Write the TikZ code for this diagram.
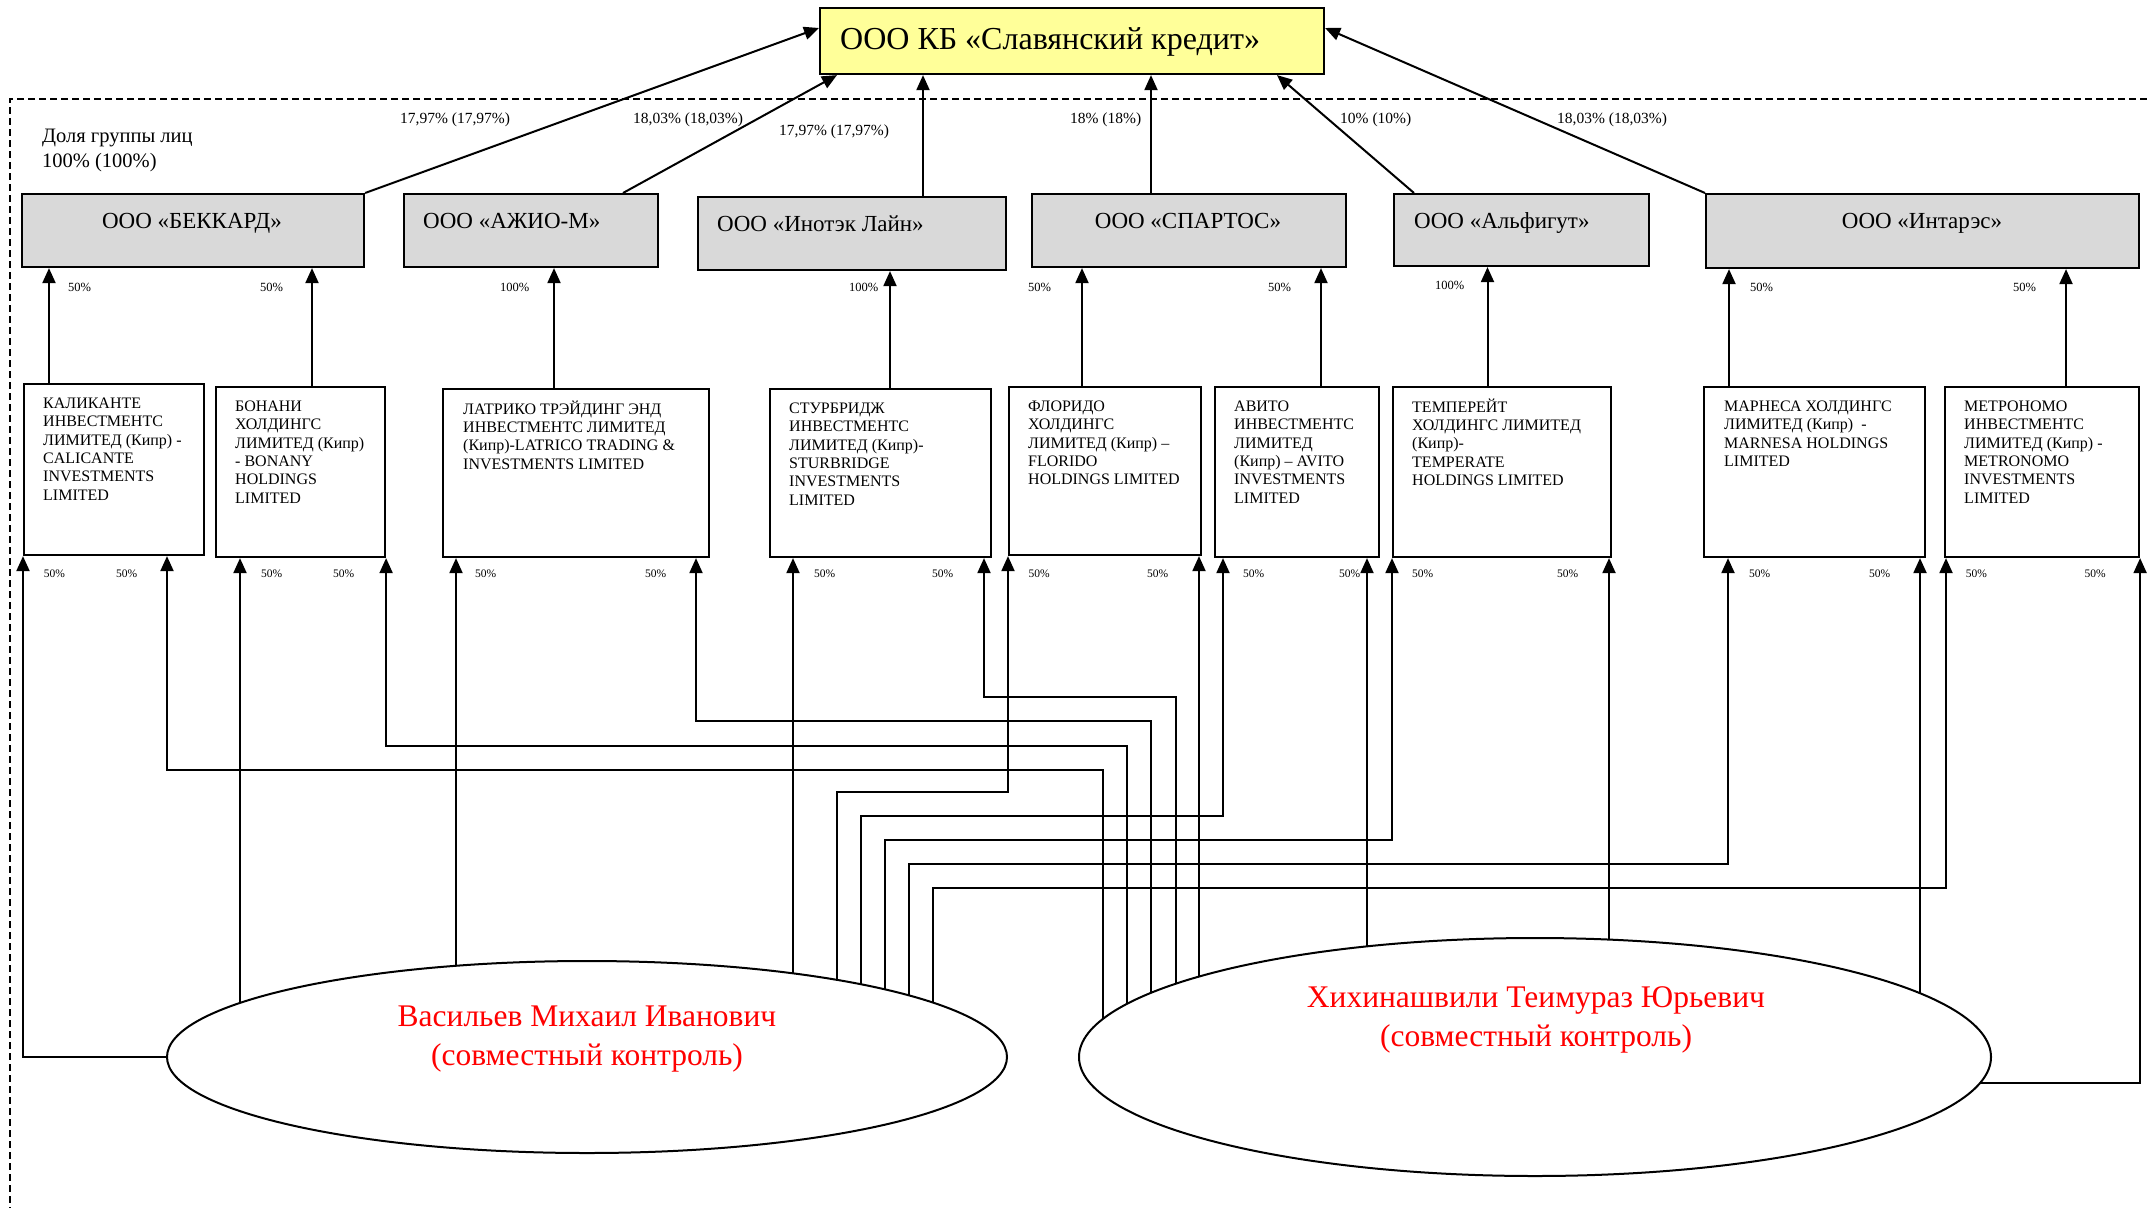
\documentclass[tikz,border=0pt]{standalone}
\usepackage{fontspec}
\setmainfont{Liberation Serif}
\usetikzlibrary{arrows.meta,shapes.geometric,backgrounds}
\definecolor{topyellow}{RGB}{255,255,153}
\begin{document}
\begin{tikzpicture}[x=1pt,y=-1pt,
  arr/.style={line width=2pt,-{Triangle[length=15pt,width=13pt]}},
  gbox/.style={draw,line width=2.1pt,fill=gray!30,inner sep=0pt,anchor=north west},
  wbox/.style={draw,line width=2.1pt,fill=white,inner sep=0pt,anchor=north west},
  gtxt/.style={font=\fontsize{23}{27}\selectfont,inner sep=0pt},
  btxt/.style={font=\fontsize{16}{18.3}\selectfont,inner sep=0pt,align=left,anchor=north west},
  pct/.style={font=\fontsize{12.5}{14}\selectfont,inner sep=0pt,anchor=west},
  pcs/.style={font=\fontsize{11.5}{13}\selectfont,inner sep=0pt,anchor=west},
  ptop/.style={font=\fontsize{15.5}{18}\selectfont,inner sep=0pt,anchor=west},
  pers/.style={draw,ellipse,line width=2pt,fill=white,inner sep=0pt},
  ptxt/.style={font=\fontsize{31.5}{38.5}\selectfont,text=red,align=center,inner sep=0pt},
]
\useasboundingbox (0,0) rectangle (2147,1208);

% group frame
\draw[line width=1.7pt,dash pattern=on 7pt off 4pt] (2147,99) -- (10,99) -- (10,1208);
\node[font=\fontsize{20.5}{25}\selectfont,inner sep=0pt,align=left,anchor=north west] (grp) at (42,124.5) {\strut Доля группы лиц\\100\% (100\%)};

% top company
\node[draw,line width=2.1pt,fill=topyellow,inner sep=0pt,anchor=north west,minimum width=504pt,minimum height=66pt] (top) at (819,7) {};
\node[font=\fontsize{32}{38}\selectfont,inner sep=0pt,anchor=base west] (topT) at (840,49) {ООО КБ «Славянский кредит»};

% second level
\node[gbox,minimum width=342pt,minimum height=73pt] (bek) at (21,193) {};
\node[gbox,minimum width=254pt,minimum height=73pt] (azh) at (403,193) {};
\node[gbox,minimum width=308pt,minimum height=73pt] (ino) at (697,196) {};
\node[gbox,minimum width=314pt,minimum height=73pt] (spa) at (1031,193) {};
\node[gbox,minimum width=255pt,minimum height=72pt] (alf) at (1393,193) {};
\node[gbox,minimum width=433pt,minimum height=74pt] (int) at (1705,193) {};
\node[gtxt,anchor=base] (bekT) at (192,228) {ООО «БЕККАРД»};
\node[gtxt,anchor=base west] (azhT) at (423,228) {ООО «АЖИО-М»};
\node[gtxt,anchor=base west] (inoT) at (717,231) {ООО «Инотэк Лайн»};
\node[gtxt,anchor=base] (spaT) at (1188,228) {ООО «СПАРТОС»};
\node[gtxt,anchor=base west] (alfT) at (1414,228) {ООО «Альфигут»};
\node[gtxt,anchor=base] (intT) at (1922,228) {ООО «Интарэс»};

% third level
\node[wbox,minimum width=179.5pt,minimum height=171pt] (kal) at (23,383) {};
\node[wbox,minimum width=169pt,minimum height=170pt] (bon) at (215,386) {};
\node[wbox,minimum width=266pt,minimum height=168pt] (lat) at (442,388) {};
\node[wbox,minimum width=221pt,minimum height=168pt] (stu) at (769,388) {};
\node[wbox,minimum width=192pt,minimum height=168pt] (flo) at (1008,386) {};
\node[wbox,minimum width=164pt,minimum height=170pt] (avi) at (1214,386) {};
\node[wbox,minimum width=218pt,minimum height=170pt] (tem) at (1392,386) {};
\node[wbox,minimum width=221pt,minimum height=170pt] (mar) at (1703,386) {};
\node[wbox,minimum width=194pt,minimum height=170pt] (met) at (1944,386) {};
\node[btxt] (kalT) at ([shift={(20,12.5)}]kal.north west) {\strut КАЛИКАНТЕ\\ИНВЕСТМЕНТС\\ЛИМИТЕД (Кипр) -\\CALICANTE\\INVESTMENTS\\LIMITED};
\node[btxt] (bonT) at ([shift={(20,12.5)}]bon.north west) {\strut БОНАНИ\\ХОЛДИНГС\\ЛИМИТЕД (Кипр)\\- BONANY\\HOLDINGS\\LIMITED};
\node[btxt] (latT) at ([shift={(21,12.5)}]lat.north west) {\strut ЛАТРИКО ТРЭЙДИНГ ЭНД\\ИНВЕСТМЕНТС ЛИМИТЕД\\(Кипр)-LATRICO TRADING \&\\INVESTMENTS LIMITED};
\node[btxt] (stuT) at ([shift={(20,12.5)}]stu.north west) {\strut СТУРБРИДЖ\\ИНВЕСТМЕНТС\\ЛИМИТЕД (Кипр)-\\STURBRIDGE\\INVESTMENTS\\LIMITED};
\node[btxt] (floT) at ([shift={(20,12.5)}]flo.north west) {\strut ФЛОРИДО\\ХОЛДИНГС\\ЛИМИТЕД (Кипр) –\\FLORIDO\\HOLDINGS LIMITED};
\node[btxt] (aviT) at ([shift={(20,12.5)}]avi.north west) {\strut АВИТО\\ИНВЕСТМЕНТС\\ЛИМИТЕД\\(Кипр) – AVITO\\INVESTMENTS\\LIMITED};
\node[btxt] (temT) at ([shift={(20,12.5)}]tem.north west) {\strut ТЕМПЕРЕЙТ\\ХОЛДИНГС ЛИМИТЕД\\(Кипр)-\\TEMPERATE\\HOLDINGS LIMITED};
\node[btxt] (marT) at ([shift={(21,12.5)}]mar.north west) {\strut МАРНЕСА ХОЛДИНГС\\ЛИМИТЕД (Кипр)\ \ -\\MARNESA HOLDINGS\\LIMITED};
\node[btxt] (metT) at ([shift={(20,12.5)}]met.north west) {\strut МЕТРОНОМО\\ИНВЕСТМЕНТС\\ЛИМИТЕД (Кипр) -\\METRONOMO\\INVESTMENTS\\LIMITED};

% persons
\node[pers,minimum width=840pt,minimum height=192pt] (vas) at (587,1057) {};
\node[pers,minimum width=912pt,minimum height=238pt] (khi) at (1535,1057) {};
\node[ptxt] (vasT) at (587,1039) {Васильев Михаил Иванович\\(совместный контроль)};
\node[ptxt] (khiT) at (1536,1020) {Хихинашвили Теимураз Юрьевич\\(совместный контроль)};

% share labels, top level
\node[ptop] (l1) at (400,120) {17,97\% (17,97\%)};
\node[ptop] (l2) at (633,120) {18,03\% (18,03\%)};
\node[ptop] (l3) at (779,132) {17,97\% (17,97\%)};
\node[ptop] (l4) at (1070,120) {18\% (18\%)};
\node[ptop] (l5) at (1340,120) {10\% (10\%)};
\node[ptop] (l6) at (1557,120) {18,03\% (18,03\%)};

% share labels, second level
\node[pct] (m1) at (68,287) {50\%};
\node[pct] (m2) at (260,287) {50\%};
\node[pct] (m3) at (500,287) {100\%};
\node[pct] (m4) at (849,287) {100\%};
\node[pct] (m5) at (1028,287) {50\%};
\node[pct] (m6) at (1268,287) {50\%};
\node[pct] (m7) at (1435,285) {100\%};
\node[pct] (m8) at (1750,287) {50\%};
\node[pct] (m9) at (2013,287) {50\%};

% share labels, third level
\foreach \xx [count=\i] in {43.6,116,261,333,475,645,814,932,1028.5,1147,1243,1339,1412,1557,1749,1869,1965.6,2084.5}
  \node[pcs] (b\i) at (\xx,574) {50\%};

\begin{scope}[on background layer]
% to the bank
\draw[arr] (bek.north east) -- (top.west |- 0,28);
\draw[arr] (azh.north -| 623,0) -- (top.south -| 837,0);
\draw[arr] (ino.north -| 923,0) -- (top.south -| 923,0);
\draw[arr] (spa.north -| 1151,0) -- (top.south -| 1151,0);
\draw[arr] (alf.north -| 1414,0) -- (top.south -| 1277,0);
\draw[arr] (int.north west) -- (top.east |- 0,28);
% third to second level
\draw[arr] (kal.north -| 49,0) -- (bek.south -| 49,0);
\draw[arr] (bon.north -| 312,0) -- (bek.south -| 312,0);
\draw[arr] (lat.north -| 554,0) -- (azh.south -| 554,0);
\draw[arr] (stu.north -| 890,0) -- (ino.south -| 890,0);
\draw[arr] (flo.north -| 1082,0) -- (spa.south -| 1082,0);
\draw[arr] (avi.north -| 1321,0) -- (spa.south -| 1321,0);
\draw[arr] (tem.north -| 1487.5,0) -- (alf.south -| 1487.5,0);
\draw[arr] (mar.north -| 1729,0) -- (int.south -| 1729,0);
\draw[arr] (met.north -| 2066,0) -- (int.south -| 2066,0);
% Vasiliev
\draw[arr] (vas.west) -| (kal.south west);
\draw[arr] (vas.center -| 240,0) -- (bon.south -| 240,0);
\draw[arr] (vas.center -| 456,0) -- (lat.south -| 456,0);
\draw[arr] (vas.center -| 793,0) -- (stu.south -| 793,0);
\draw[arr] (vas.center -| 837,0) -- (837,792) -| (flo.south west);
\draw[arr] (vas.center -| 861,0) -- (861,816) -| (avi.south -| 1223,0);
\draw[arr] (vas.center -| 885,0) -- (885,840) -| (tem.south west);
\draw[arr] (vas.center -| 909,0) -- (909,864) -| (mar.south -| 1728,0);
\draw[arr] (vas.center -| 933,0) -- (933,888) -| (met.south -| 1946,0);
% Khikhinashvili
\draw[arr] (khi.center -| 1103,0) -- (1103,770) -| (kal.south -| 167,0);
\draw[arr] (khi.center -| 1127,0) -- (1127,746) -| (bon.south east);
\draw[arr] (khi.center -| 1151,0) -- (1151,721) -| (lat.south -| 696,0);
\draw[arr] (khi.center -| 1176,0) -- (1176,697) -| (stu.south -| 984,0);
\draw[arr] (khi.center -| 1199,0) -- (flo.south -| 1199,0);
\draw[arr] (khi.center -| 1367,0) -- (avi.south -| 1367,0);
\draw[arr] (khi.center -| 1609,0) -- (tem.south -| 1609,0);
\draw[arr] (khi.center -| 1920,0) -- (mar.south -| 1920,0);
\draw[arr] (khi.center |- 0,1083) -| (met.south east);
\end{scope}
\end{tikzpicture}
\end{document}
